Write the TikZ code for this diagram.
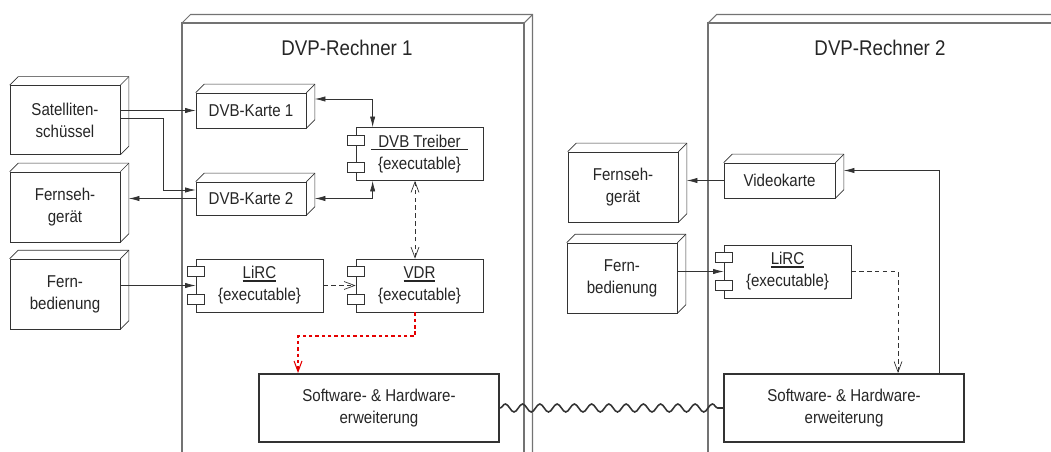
\documentclass[tikz,border=0pt]{standalone}
\usepackage{fontspec}
\setmainfont{Liberation Sans}[FakeStretch=0.88]
\usetikzlibrary{arrows.meta,decorations.pathmorphing}

\definecolor{linegray}{gray}{0.2}
\definecolor{framegray}{gray}{0.45}

\newcommand{\normtext}{\fontsize{9.75}{12.5}\selectfont}
\newcommand{\titletext}{\fontsize{12.1}{14}\selectfont}
% underlined component name
\newcommand{\uname}[1]{\setbox0\hbox{#1}\leavevmode\rlap{\rule[-1.7pt]{\wd0}{1pt}}\box0}
% depth edges of a 3d box node
\newcommand{\boxdepth}[1]{%
	\draw[linegray] (#1.north west) -- ++(0.17,0.17) -- ([shift={(0.17,0.17)}]#1.north east) -- ([shift={(0.17,0.17)}]#1.south east) -- (#1.south east);
	\draw[linegray] (#1.north east) -- ++(0.17,0.17);}
% two ports on the left of a component
\newcommand{\ports}[1]{%
	\draw[linegray, fill=white] ([shift={(-0.17,-0.16)}]#1.north west) rectangle ++(0.34,-0.2);
	\draw[linegray, fill=white] ([shift={(-0.17,0.16)}]#1.south west) rectangle ++(0.34,0.2);}

\tikzset{
	device/.style={draw=linegray, fill=white, text=black!85, minimum width=2.2cm, minimum height=1.4cm, inner sep=0pt, align=center, font=\normtext},
	card/.style={device, minimum height=0.7cm},
	component/.style={draw=linegray, fill=white, text=black!85, minimum width=2.54cm, minimum height=1.06cm, inner sep=0pt, align=center, font=\normtext},
	extension/.style={draw=linegray, line width=1.1pt, fill=white, text=black!85, minimum width=4.8cm, minimum height=1.36cm, inner sep=0pt, align=center, font=\normtext},
	conn/.style={draw=linegray, -{Latex[length=6pt,width=3pt]}},
	biconn/.style={draw=linegray, {Latex[length=6pt,width=3pt]}-{Latex[length=6pt,width=3pt]}},
	dep/.style={draw=linegray, dash pattern=on 2.5pt off 2pt, -{Straight Barb[length=6pt,width=4.5pt]}},
	bidep/.style={dep, {Straight Barb[length=6pt,width=4.5pt]}-{Straight Barb[length=6pt,width=4.5pt]}},
	reddep/.style={draw=red!90!black, line width=1.1pt, dash pattern=on 2pt off 1.6pt, -{Straight Barb[length=6pt,width=4.5pt,line width=0.6pt]}},
	wire/.style={draw=linegray, line width=0.9pt, decorate, decoration={snake, segment length=0.345cm, amplitude=0.08cm}}
}

\begin{document}
\begin{tikzpicture}

	\useasboundingbox (0,0) rectangle (21.02,-9.04);

	% DVP-Rechner 1
	\draw[framegray, line width=0.6pt] (3.64,-9.3) -- (3.64,-0.46) -- (10.48,-0.46) -- (10.48,-9.3);
	\draw[framegray, line width=0.6pt] (3.64,-0.46) -- (3.81,-0.29) -- (10.65,-0.29) -- (10.65,-9.3);
	\draw[framegray, line width=0.6pt] (10.48,-0.46) -- (10.65,-0.29);
	\node[font=\titletext, text=black!85] (title1) at (6.94,-0.96) {DVP-Rechner 1};

	% DVP-Rechner 2
	\draw[framegray, line width=0.6pt] (14.16,-9.3) -- (14.16,-0.46) -- (21.5,-0.46);
	\draw[framegray, line width=0.6pt] (14.16,-0.46) -- (14.33,-0.29) -- (21.5,-0.29);
	\node[font=\titletext, text=black!85] (title2) at (17.6,-0.96) {DVP-Rechner 2};

	% left devices
	\node[device, minimum height=1.38cm] (sat) at (1.30,-2.40) {Satelliten-\\schüssel};
	\node[device] (tvL) at (1.30,-4.14) {Fernseh-\\gerät};
	\node[device] (fbL) at (1.30,-5.88) {Fern-\\bedienung};
	\boxdepth{sat}
	\boxdepth{tvL}
	\boxdepth{fbL}

	\node[card] (karte1) at (5.02,-2.21) {DVB-Karte 1};
	\node[card, minimum height=0.66cm] (karte2) at (5.02,-3.97) {DVB-Karte 2};
	\boxdepth{karte1}
	\boxdepth{karte2}

	\node[component] (treiber) at (8.39,-3.08) {\uname{\hspace{4pt}DVB Treiber\hspace{4pt}}\\\{executable\}};
	\node[component] (lircL) at (5.19,-5.71) {\uname{LiRC}\\\{executable\}};
	\node[component] (vdr) at (8.39,-5.71) {\uname{VDR}\\\{executable\}};
	\ports{treiber}
	\ports{lircL}
	\ports{vdr}

	\node[extension] (swL) at (7.58,-8.16) {Software- \& Hardware-\\erweiterung};

	% right devices
	\node[device] (tvR) at (12.46,-3.74) {Fernseh-\\gerät};
	\node[device] (fbR) at (12.44,-5.56) {Fern-\\bedienung};
	\node[card, minimum width=2.22cm] (vk) at (15.59,-3.61) {Videokarte};
	\boxdepth{tvR}
	\boxdepth{fbR}
	\boxdepth{vk}

	\node[component] (lircR) at (15.75,-5.43) {\uname{LiRC}\\\{executable\}};
	\ports{lircR}

	\node[extension] (swR) at (16.88,-8.16) {Software- \& Hardware-\\erweiterung};

	% connections
	\draw[conn] (sat.east |- karte1.west) -- (karte1.west);
	\draw[conn] ([yshift=0.04cm]sat.east) -- ++(0.86,0) |- ([yshift=0.17cm]karte2.west);
	\draw[conn] (karte2.west) -- ([xshift=0.17cm]tvL.east |- karte2.west);
	\draw[biconn] ([xshift=0.17cm,yshift=0.23cm]karte1.east) -| ([xshift=0.34cm]treiber.north west);
	\draw[biconn] ([xshift=0.17cm]karte2.east) -| ([xshift=0.34cm]treiber.south west);
	\draw[bidep] ([xshift=-0.09cm]vdr.north) -- ([xshift=-0.09cm]treiber.south);
	\draw[conn] (fbL.east |- lircL.west) -- (lircL.west);
	\draw[dep] (lircL.east) -- (vdr.west);
	\draw[reddep] ([xshift=-0.09cm]vdr.south) -- ++(0,-0.48) -| ([xshift=0.8cm]swL.north west);
	\draw[wire] (swL.east) -- (swR.west);

	\draw[conn] (fbR.east |- lircR.west) -- (lircR.west);
	\draw[conn] (vk.west) -- ([xshift=0.17cm]tvR.east |- vk.west);
	\draw[conn] ([xshift=-0.52cm]swR.north east) |- ([xshift=0.17cm,yshift=0.2cm]vk.east);
	\draw[dep] (lircR.east) -| ([xshift=3.5cm]swR.north west);

\end{tikzpicture}
\end{document}
